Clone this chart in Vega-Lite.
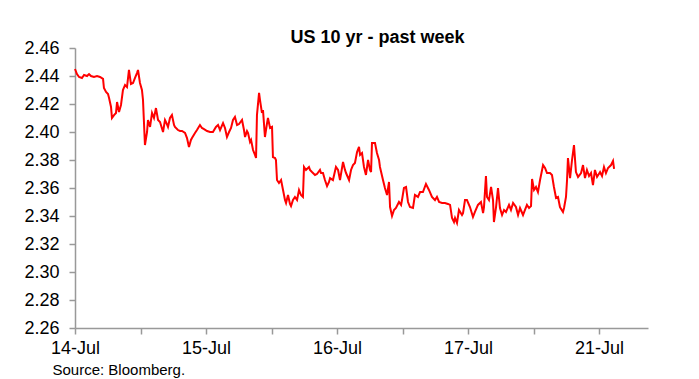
{
  "$schema": "https://vega.github.io/schema/vega-lite/v6.json",
  "autosize": "none",
  "width": 573,
  "height": 280,
  "padding": {"left": 75, "top": 48, "right": 51, "bottom": 51},
  "background": "white",
  "config": {
    "view": {"stroke": null},
    "font": "Liberation Sans"
  },
  "title": {
    "text": "US 10 yr - past week",
    "font": "Liberation Sans",
    "fontSize": 18,
    "fontWeight": "bold",
    "color": "black",
    "anchor": "middle",
    "dx": 16,
    "dy": 25,
    "baseline": "alphabetic",
    "offset": 3
  },
  "data": {
    "values": [
      {"t":0,"y":2.445},{"t":0.015,"y":2.4414},{"t":0.031,"y":2.4393},{"t":0.053,"y":2.4386},{"t":0.069,"y":2.4407},{"t":0.092,"y":2.44},{"t":0.107,"y":2.4414},{"t":0.122,"y":2.44},{"t":0.145,"y":2.4393},{"t":0.168,"y":2.44},
      {"t":0.191,"y":2.4393},{"t":0.214,"y":2.4379},{"t":0.221,"y":2.4314},{"t":0.237,"y":2.4286},{"t":0.252,"y":2.4271},{"t":0.26,"y":2.4243},{"t":0.275,"y":2.4179},{"t":0.282,"y":2.41},{"t":0.298,"y":2.4121},{"t":0.313,"y":2.4136},
      {"t":0.321,"y":2.4214},{"t":0.336,"y":2.4143},{"t":0.351,"y":2.4193},{"t":0.366,"y":2.43},{"t":0.382,"y":2.4336},{"t":0.397,"y":2.4321},{"t":0.412,"y":2.4443},{"t":0.427,"y":2.4343},{"t":0.443,"y":2.435},{"t":0.458,"y":2.4386},
      {"t":0.473,"y":2.4421},{"t":0.481,"y":2.4443},{"t":0.496,"y":2.435},{"t":0.511,"y":2.43},{"t":0.519,"y":2.4229},{"t":0.534,"y":2.3907},{"t":0.55,"y":2.4},{"t":0.557,"y":2.4086},{"t":0.573,"y":2.4036},{"t":0.588,"y":2.4136},
      {"t":0.603,"y":2.41},{"t":0.618,"y":2.4171},{"t":0.634,"y":2.4086},{"t":0.649,"y":2.4071},{"t":0.672,"y":2.4},{"t":0.687,"y":2.4086},{"t":0.695,"y":2.4071},{"t":0.71,"y":2.4036},{"t":0.725,"y":2.41},{"t":0.74,"y":2.4121},
      {"t":0.756,"y":2.405},{"t":0.763,"y":2.4036},{"t":0.786,"y":2.4014},{"t":0.802,"y":2.4007},{"t":0.817,"y":2.4007},{"t":0.84,"y":2.3993},{"t":0.855,"y":2.3957},{"t":0.87,"y":2.3893},{"t":0.885,"y":2.3943},{"t":0.893,"y":2.3957},
      {"t":0.916,"y":2.3993},{"t":0.931,"y":2.4014},{"t":0.954,"y":2.405},{"t":0.969,"y":2.4029},{"t":0.985,"y":2.4021},{"t":1.008,"y":2.4007},{"t":1.031,"y":2.4},{"t":1.053,"y":2.4},{"t":1.076,"y":2.4036},{"t":1.092,"y":2.405},
      {"t":1.107,"y":2.4014},{"t":1.13,"y":2.4064},{"t":1.145,"y":2.4029},{"t":1.16,"y":2.3964},{"t":1.176,"y":2.4},{"t":1.191,"y":2.4029},{"t":1.206,"y":2.4086},{"t":1.221,"y":2.4107},{"t":1.237,"y":2.405},{"t":1.252,"y":2.4057},
      {"t":1.275,"y":2.4086},{"t":1.29,"y":2.4014},{"t":1.298,"y":2.3964},{"t":1.313,"y":2.4007},{"t":1.321,"y":2.3993},{"t":1.336,"y":2.3929},{"t":1.344,"y":2.3943},{"t":1.359,"y":2.3871},{"t":1.374,"y":2.3836},{"t":1.382,"y":2.3814},
      {"t":1.389,"y":2.4121},{"t":1.405,"y":2.4279},{"t":1.412,"y":2.4229},{"t":1.427,"y":2.4136},{"t":1.435,"y":2.4157},{"t":1.45,"y":2.3964},{"t":1.466,"y":2.4064},{"t":1.473,"y":2.41},{"t":1.489,"y":2.4029},{"t":1.504,"y":2.4036},
      {"t":1.511,"y":2.3821},{"t":1.527,"y":2.3814},{"t":1.534,"y":2.38},{"t":1.542,"y":2.3657},{"t":1.557,"y":2.3636},{"t":1.573,"y":2.3657},{"t":1.588,"y":2.3586},{"t":1.603,"y":2.3514},{"t":1.611,"y":2.3493},{"t":1.626,"y":2.355},
      {"t":1.641,"y":2.3486},{"t":1.649,"y":2.3471},{"t":1.664,"y":2.3514},{"t":1.679,"y":2.3536},{"t":1.695,"y":2.3514},{"t":1.71,"y":2.3586},{"t":1.725,"y":2.355},{"t":1.74,"y":2.3536},{"t":1.748,"y":2.375},{"t":1.763,"y":2.3729},
      {"t":1.786,"y":2.375},{"t":1.794,"y":2.3729},{"t":1.809,"y":2.3714},{"t":1.832,"y":2.3693},{"t":1.847,"y":2.37},{"t":1.87,"y":2.3729},{"t":1.878,"y":2.3707},{"t":1.893,"y":2.3707},{"t":1.908,"y":2.3657},{"t":1.924,"y":2.3614},
      {"t":1.939,"y":2.3643},{"t":1.947,"y":2.3671},{"t":1.969,"y":2.3657},{"t":1.992,"y":2.375},{"t":2.008,"y":2.3729},{"t":2.023,"y":2.3657},{"t":2.046,"y":2.3786},{"t":2.061,"y":2.3729},{"t":2.069,"y":2.3707},{"t":2.092,"y":2.3657},
      {"t":2.107,"y":2.3729},{"t":2.122,"y":2.3764},{"t":2.137,"y":2.3779},{"t":2.153,"y":2.3857},{"t":2.168,"y":2.3893},{"t":2.176,"y":2.3836},{"t":2.191,"y":2.385},{"t":2.206,"y":2.375},{"t":2.221,"y":2.3693},{"t":2.237,"y":2.38},
      {"t":2.252,"y":2.3729},{"t":2.26,"y":2.3714},{"t":2.267,"y":2.3921},{"t":2.29,"y":2.3921},{"t":2.305,"y":2.385},{"t":2.321,"y":2.38},{"t":2.328,"y":2.375},{"t":2.351,"y":2.3657},{"t":2.366,"y":2.36},{"t":2.382,"y":2.355},
      {"t":2.397,"y":2.3643},{"t":2.405,"y":2.3464},{"t":2.42,"y":2.34},{"t":2.435,"y":2.3443},{"t":2.45,"y":2.3457},{"t":2.473,"y":2.35},{"t":2.489,"y":2.3479},{"t":2.496,"y":2.3514},{"t":2.511,"y":2.36},{"t":2.527,"y":2.3607},
      {"t":2.542,"y":2.35},{"t":2.557,"y":2.3464},{"t":2.58,"y":2.3457},{"t":2.595,"y":2.355},{"t":2.618,"y":2.3536},{"t":2.634,"y":2.3571},{"t":2.656,"y":2.3571},{"t":2.679,"y":2.3629},{"t":2.702,"y":2.3586},{"t":2.725,"y":2.3536},
      {"t":2.748,"y":2.3514},{"t":2.763,"y":2.3536},{"t":2.779,"y":2.35},{"t":2.802,"y":2.3493},{"t":2.824,"y":2.3493},{"t":2.847,"y":2.3486},{"t":2.863,"y":2.3479},{"t":2.878,"y":2.3386},{"t":2.893,"y":2.3357},{"t":2.901,"y":2.3386},
      {"t":2.916,"y":2.335},{"t":2.931,"y":2.3443},{"t":2.954,"y":2.3407},{"t":2.962,"y":2.3421},{"t":2.977,"y":2.3514},{"t":2.992,"y":2.3514},{"t":3.015,"y":2.3464},{"t":3.038,"y":2.3393},{"t":3.053,"y":2.3429},{"t":3.076,"y":2.3479},
      {"t":3.099,"y":2.35},{"t":3.115,"y":2.3421},{"t":3.122,"y":2.3464},{"t":3.137,"y":2.3686},{"t":3.145,"y":2.3536},{"t":3.16,"y":2.3514},{"t":3.176,"y":2.3607},{"t":3.191,"y":2.3514},{"t":3.198,"y":2.3357},{"t":3.214,"y":2.3464},
      {"t":3.229,"y":2.36},{"t":3.244,"y":2.3457},{"t":3.26,"y":2.3407},{"t":3.275,"y":2.3443},{"t":3.29,"y":2.3429},{"t":3.313,"y":2.3479},{"t":3.328,"y":2.3443},{"t":3.344,"y":2.3493},{"t":3.366,"y":2.3464},{"t":3.382,"y":2.3407},
      {"t":3.397,"y":2.3457},{"t":3.42,"y":2.3407},{"t":3.435,"y":2.3443},{"t":3.45,"y":2.3479},{"t":3.466,"y":2.3457},{"t":3.481,"y":2.3471},{"t":3.489,"y":2.3664},{"t":3.504,"y":2.3586},{"t":3.519,"y":2.3607},{"t":3.534,"y":2.3571},
      {"t":3.55,"y":2.3657},{"t":3.573,"y":2.3764},{"t":3.588,"y":2.3743},{"t":3.603,"y":2.3707},{"t":3.626,"y":2.3707},{"t":3.641,"y":2.3693},{"t":3.656,"y":2.3607},{"t":3.672,"y":2.3529},{"t":3.687,"y":2.3536},{"t":3.702,"y":2.3464},
      {"t":3.725,"y":2.3429},{"t":3.733,"y":2.3457},{"t":3.748,"y":2.3536},{"t":3.756,"y":2.3657},{"t":3.763,"y":2.3814},{"t":3.779,"y":2.3671},{"t":3.794,"y":2.38},{"t":3.809,"y":2.3907},{"t":3.824,"y":2.3714},{"t":3.84,"y":2.3679},
      {"t":3.863,"y":2.3707},{"t":3.878,"y":2.3764},{"t":3.893,"y":2.3671},{"t":3.908,"y":2.3729},{"t":3.924,"y":2.3686},{"t":3.939,"y":2.3707},{"t":3.954,"y":2.3621},{"t":3.969,"y":2.3729},{"t":3.985,"y":2.3679},{"t":4.008,"y":2.3714},
      {"t":4.023,"y":2.3686},{"t":4.038,"y":2.375},{"t":4.053,"y":2.3707},{"t":4.069,"y":2.3743},{"t":4.092,"y":2.3764},{"t":4.107,"y":2.3793},{"t":4.115,"y":2.3736}
    ]
  },
  "mark": {"type": "line", "color": "#ff0000", "strokeWidth": 2, "interpolate": "linear"},
  "encoding": {
    "x": {
      "field": "t",
      "type": "quantitative",
      "scale": {"domain": [0, 4.374], "nice": false, "zero": false},
      "axis": {
        "values": [0, 0.5, 1, 1.5, 2, 2.5, 3, 3.5, 4],
        "labelExpr": "datum.value == 0 ? '14-Jul' : datum.value == 1 ? '15-Jul' : datum.value == 2 ? '16-Jul' : datum.value == 3 ? '17-Jul' : datum.value == 4 ? '21-Jul' : ''",
        "grid": false,
        "domainColor": "#999999",
        "domainWidth": 1.5,
        "tickColor": "#999999",
        "tickWidth": 1.5,
        "tickSize": 6,
        "labelFont": "Liberation Sans",
        "labelFontSize": 18,
        "labelColor": "black",
        "labelPadding": 5,
        "labelFlush": false,
        "labelOverlap": false,
        "title": "Source: Bloomberg.",
        "titleFont": "Liberation Sans",
        "titleFontSize": 15,
        "titleFontWeight": "normal",
        "titleColor": "black",
        "titleAnchor": "start",
        "titleAlign": "left",
        "titleBaseline": "alphabetic",
        "titleX": -23,
        "titleY": 46
      }
    },
    "y": {
      "field": "y",
      "type": "quantitative",
      "scale": {"domain": [2.26, 2.46], "nice": false, "zero": false},
      "axis": {
        "values": [2.26, 2.28, 2.3, 2.32, 2.34, 2.36, 2.38, 2.4, 2.42, 2.44, 2.46],
        "format": ".2f",
        "grid": false,
        "domainColor": "#999999",
        "domainWidth": 1.5,
        "tickColor": "#999999",
        "tickWidth": 1.5,
        "tickSize": 6,
        "labelFont": "Liberation Sans",
        "labelFontSize": 18,
        "labelColor": "black",
        "labelPadding": 10,
        "labelFlush": false,
        "labelOverlap": false,
        "title": null
      }
    }
  }
}
